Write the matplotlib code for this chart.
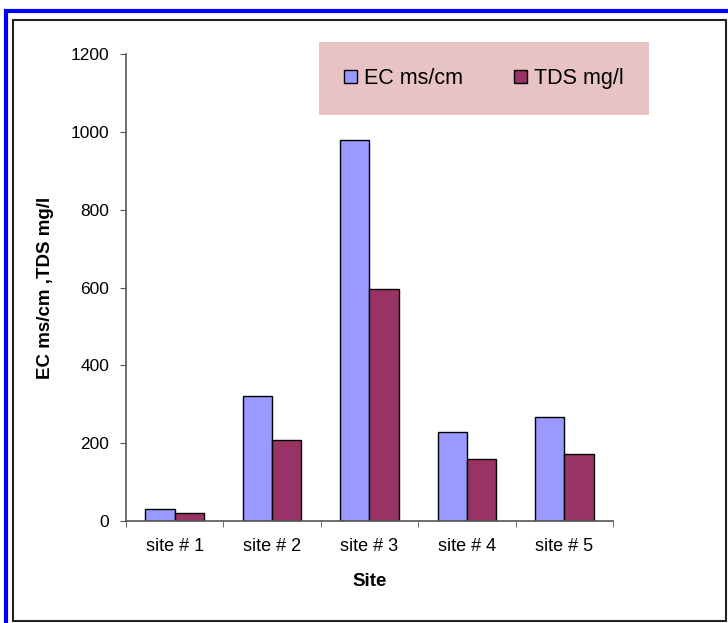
import matplotlib.pyplot as plt
import matplotlib.patches as mpatches
import numpy as np

sites = ['site # 1', 'site # 2', 'site # 3', 'site # 4', 'site # 5']
ec = [30, 322, 979, 229, 268]
tds = [21, 208, 595, 160, 173]

W, H = 728, 623
fig = plt.figure(figsize=(W / 100, H / 100), dpi=100)

# outer blue frame and inner black frame (pixel coords -> figure fraction)
def px(x, y):
    return x / W, 1 - y / H

x0, y0 = px(5.5, 10.5)
fig.patches.append(mpatches.Rectangle((x0, -0.05), 1.1, y0 + 0.05, transform=fig.transFigure,
                                      fill=False, edgecolor='#0000ff', linewidth=3))
x1, y1 = px(12.5, 19.5)
x2, y2 = px(726, 621)
fig.patches.append(mpatches.Rectangle((x1, y2), x2 - x1, y1 - y2, transform=fig.transFigure,
                                      fill=False, edgecolor='#222222', linewidth=1.5))

ax = fig.add_axes([126 / W, 1 - 521 / H, (613 - 126) / W, (521 - 54) / H])

x = np.arange(len(sites))
w = 0.3
ax.bar(x - w / 2, ec, w, color='#9999ff', edgecolor='black', linewidth=1.0, label='EC ms/cm')
ax.bar(x + w / 2, tds, w, color='#993366', edgecolor='black', linewidth=1.0, label='TDS mg/l')

ax.set_xlim(-0.5, len(sites) - 0.5)
ax.set_ylim(0, 1200)
ax.set_yticks(range(0, 1201, 200))
ax.set_xticks(x)
ax.set_xticklabels(sites, fontsize=13, family='Liberation Sans')
ax.set_xticks(np.arange(-0.5, len(sites), 1), minor=True)
ax.tick_params(axis='x', which='major', length=0, pad=12)
ax.tick_params(axis='x', which='minor', length=4, direction='out', color='#555555')
ax.tick_params(axis='y', length=4, direction='out', color='#555555', labelsize=12.5, pad=8)
for lab in ax.get_yticklabels():
    lab.set_family('Liberation Sans')

for s in ['top', 'right']:
    ax.spines[s].set_visible(False)
for s in ['left', 'bottom']:
    ax.spines[s].set_color('#555555')
    ax.spines[s].set_linewidth(1.2)

ax.set_xlabel('Site', fontsize=13.5, fontweight='bold', family='Liberation Sans', labelpad=13)
ax.set_ylabel('EC ms/cm ,TDS mg/l', fontsize=13.5, fontweight='bold', family='Liberation Sans', labelpad=12)

# legend with pink background
lx, ly = px(319, 115)
lx2, ly2 = px(649, 42)
fig.patches.append(mpatches.Rectangle((lx, ly), lx2 - lx, ly2 - ly, transform=fig.transFigure,
                                      facecolor='#e8c3c4', edgecolor='none', zorder=5))
leg = fig.legend(loc='center', bbox_to_anchor=((lx + lx2) / 2, (ly + ly2) / 2), ncol=2,
                 frameon=False, handlelength=0.6, handleheight=0.6, handletextpad=0.3,
                 columnspacing=2.4, prop={'family': 'Liberation Sans', 'size': 15.5})
leg.set_zorder(6)

fig.savefig('out.png', dpi=100)
